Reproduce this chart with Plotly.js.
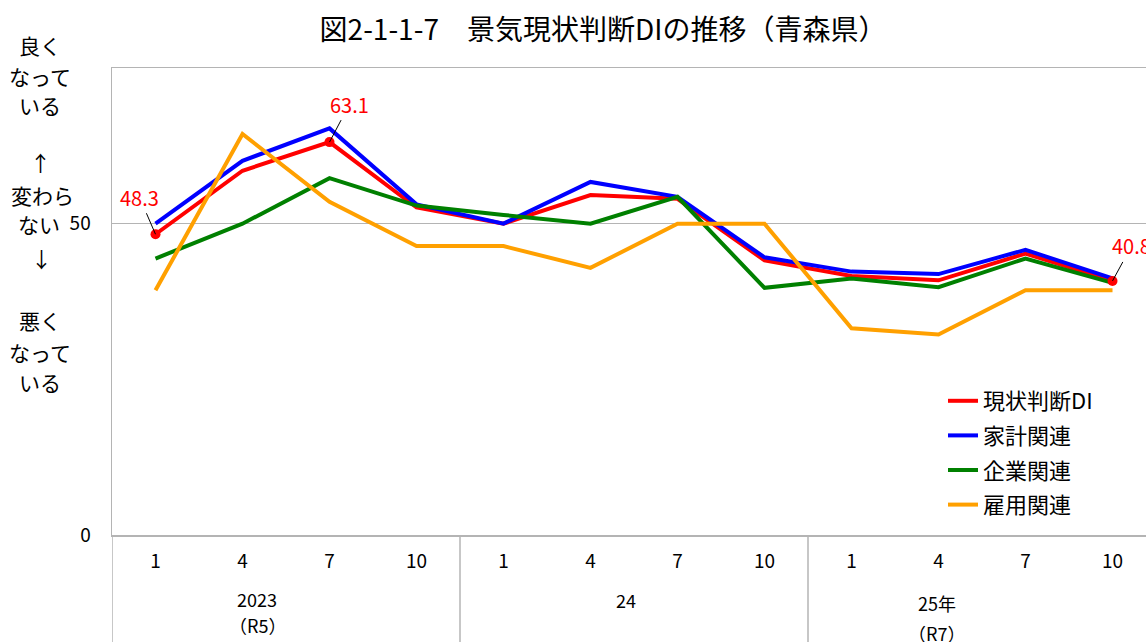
<!DOCTYPE html>
<html><head><meta charset="utf-8">
<script src="https://cdn.plot.ly/plotly-3.0.1.min.js"></script>
<style>html,body{margin:0;padding:0;background:#fff;}#chart{width:1146px;height:642px;}</style>
</head><body><div id="chart"></div>
<script>
const months = ['1','4','7','10','1','4','7','10','1','4','7','10'];
const yearLabels = [['2023','（R5）'],['24'],['25年','（R7）']];
const seriesNames = ['現状判断DI','家計関連','企業関連','雇用関連'];
const genjo = [48.3,58.5,63.1,52.6,50.0,54.6,54.0,44.1,41.6,40.9,45.2,40.8];
const kakei = [50.0,60.1,65.3,53.1,50.0,56.7,54.3,44.6,42.3,41.9,45.8,41.2];
const kigyo = [44.4,50.0,57.3,52.9,51.4,50.0,54.3,39.7,41.2,39.8,44.4,40.5];
const koyo  = [39.3,64.4,53.5,46.4,46.4,42.9,50.0,50.0,33.2,32.2,39.3,39.3];
const labelIdx = [0,2,11];
const sideLabels = ['良く','なって','いる','↑','変わら','ない','↓','悪く','なって','いる'];

const FONT = '"Noto Sans CJK JP", "Noto Sans", sans-serif';
const colors = ['#ff0000','#0000ff','#008000','#ffa000'];
const xs = months.map((_, i) => i);
const seriesData = [genjo, kakei, kigyo, koyo];

const traces = seriesData.map((d, k) => ({
  type: 'scatter', mode: 'lines', x: xs, y: d, name: seriesNames[k],
  legendgroup: 'g' + k,
  line: {color: colors[k], width: 4}
}));
traces.push({
  type: 'scatter', mode: 'markers', showlegend: false,
  x: labelIdx.map(i => xs[i]), y: labelIdx.map(i => genjo[i]),
  marker: {color: '#ff0000', size: 10}
});

const H = 642, plotTop = 68, plotBot = 535;
const plotLeft = 112, plotW = 1146 - 112;
const py = p => (plotBot - p) / (plotBot - plotTop);
const px = p => (p - plotLeft) / plotW;

const annotations = [];
// data labels
const labelOffsets = [[-16,-37],[20,-38],[19,-35]];
labelIdx.forEach((i, j) => {
  annotations.push({
    x: xs[i], y: genjo[i], xref: 'x', yref: 'y', text: genjo[i].toFixed(1),
    showarrow: true, arrowhead: 0, arrowwidth: 1, arrowcolor: '#000',
    ax: labelOffsets[j][0], ay: labelOffsets[j][1],
    font: {family: FONT, size: 20, color: '#ff0000'}
  });
});
// side labels
const sideY = [45, 76, 105, 162, 195, 224, 258, 320, 352, 382];
const sideX = [40, 40, 40, 40, 42, 39, 41, 40, 40, 40];
sideLabels.forEach((t, i) => {
  annotations.push({
    x: px(sideX[i]), y: py(sideY[i]), xref: 'paper', yref: 'paper', text: t,
    showarrow: false, xanchor: 'center', yanchor: 'middle',
    font: {family: FONT, size: 21, color: '#000'}
  });
});

// year group labels (one annotation per line)
const yearPos = [1.17, 5.41, 8.98];
const yearLineY = [[599, 625], [600], [603, 633]];
yearLabels.forEach((lines, g) => {
  lines.forEach((t, l) => {
    annotations.push({
      x: yearPos[g], y: py(yearLineY[g][l]), xref: 'x', yref: 'paper', text: t,
      showarrow: false, xanchor: 'center', yanchor: 'middle', borderpad: 0,
      font: {family: FONT, size: 18, color: '#000'}
    });
  });
});

// group dividers
const shapes = [-0.5, 3.5, 7.5].map(xv => ({
  type: 'line', xref: 'x', yref: 'paper', x0: xv, x1: xv, y0: 0, y1: py(H + 5),
  line: {color: '#b4b4b4', width: 1.5}
}));

const layout = {
  width: 1146, height: 642,
  margin: {l: 112, r: 0, t: 68, b: 107},
  paper_bgcolor: '#fff', plot_bgcolor: '#fff',
  font: {family: FONT, color: '#000'},
  title: {
    text: '図2-1-1-7　景気現状判断DIの推移（青森県）',
    x: 603 / 1146, xref: 'container', xanchor: 'center',
    y: 1 - 30 / 642, yref: 'container', yanchor: 'middle',
    font: {family: FONT, size: 28, color: '#000'}
  },
  xaxis: {
    range: [-0.5, 11.385], tickvals: xs, ticktext: months,
    showgrid: false, zeroline: false, showline: true, mirror: true,
    linecolor: '#b4b4b4', linewidth: 1.5, ticks: '', ticklabelstandoff: 9,
    tickfont: {family: FONT, size: 19, color: '#000'}, fixedrange: true
  },
  yaxis: {
    range: [0, 75], tickvals: [0, 50], ticktext: ['0', '50'],
    showgrid: true, gridcolor: '#b4b4b4', gridwidth: 1.5,
    zeroline: false, showline: true, linecolor: '#b4b4b4', linewidth: 1.5,
    ticks: '', ticklabelstandoff: 16,
    tickfont: {family: FONT, size: 19, color: '#000'}, fixedrange: true
  },
  legend: {
    x: px(943), xanchor: 'left', y: py(380), yanchor: 'top',
    traceorder: 'grouped', tracegroupgap: 3, itemwidth: 30,
    bgcolor: 'rgba(0,0,0,0)', font: {family: FONT, size: 22, color: '#000'}
  },
  showlegend: true,
  annotations: annotations,
  shapes: shapes
};

Plotly.newPlot('chart', traces, layout, {displayModeBar: false, staticPlot: true});
</script>
</body></html>
